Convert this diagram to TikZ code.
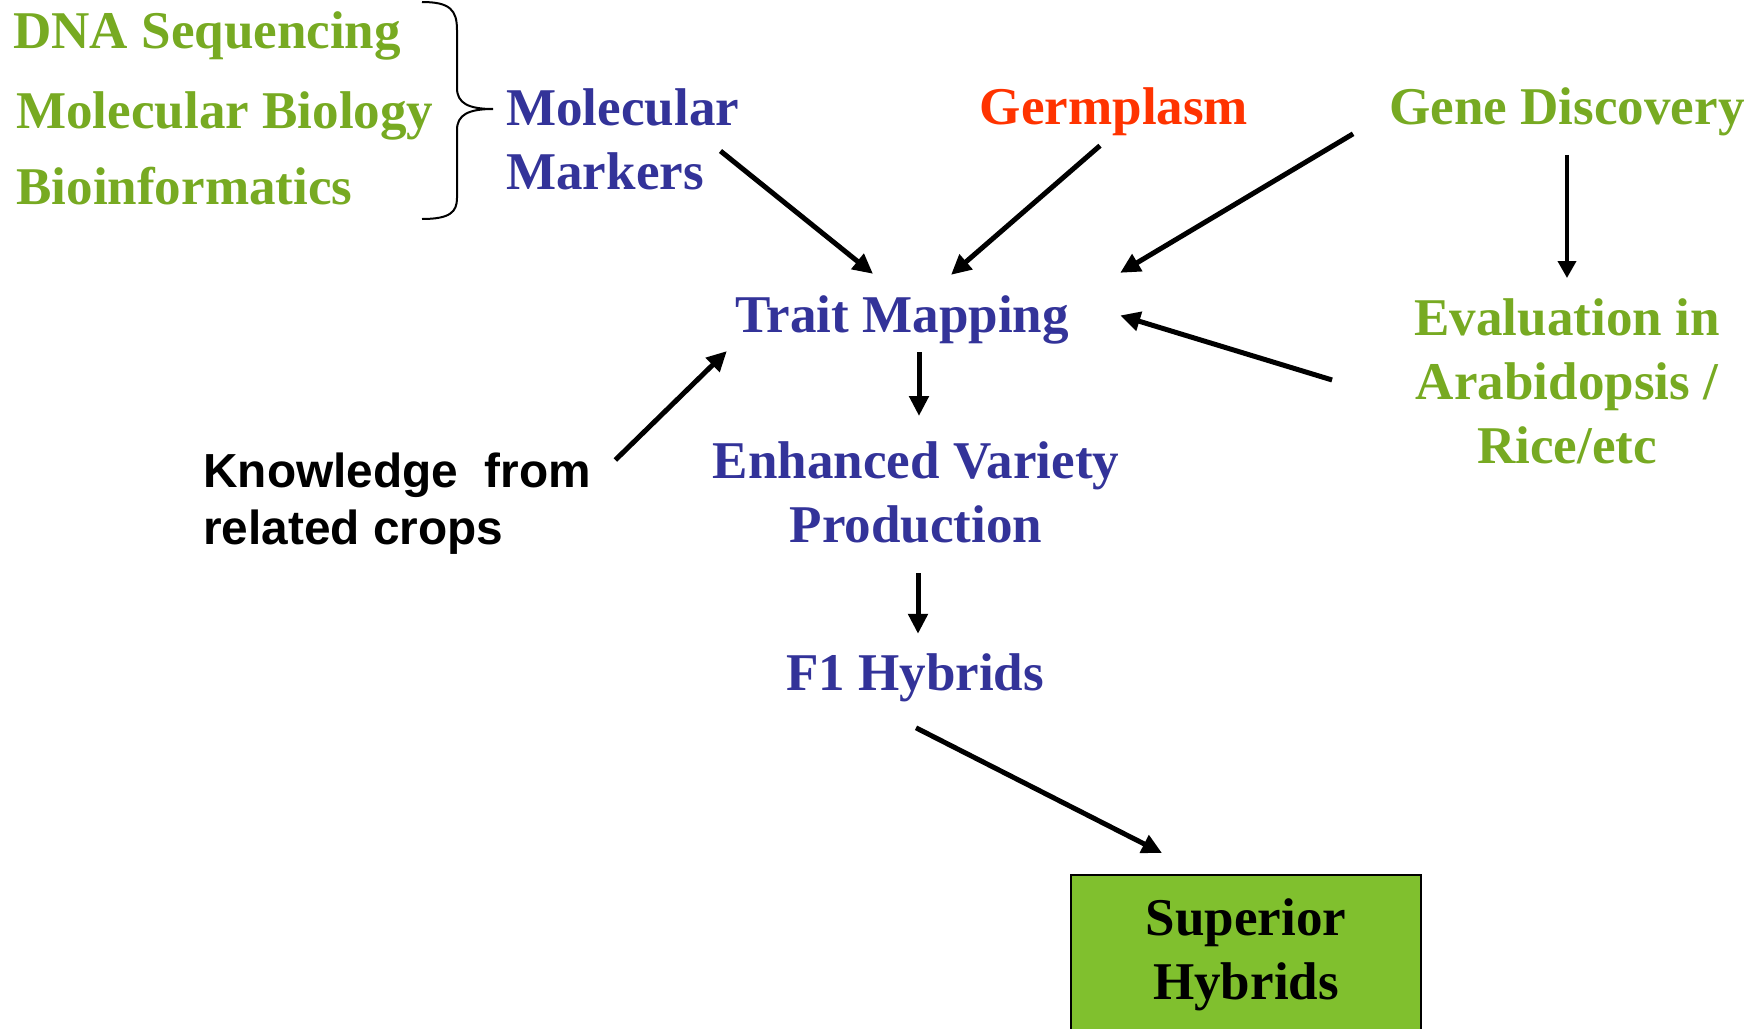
\documentclass[tikz,border=0pt]{standalone}
\usepackage{fontspec}
\setmainfont{Liberation Serif}
\newfontfamily\arialfont{Liberation Sans}
\usetikzlibrary{arrows.meta}
\definecolor{leafgreen}{RGB}{119,170,34}
\definecolor{boxgreen}{RGB}{128,192,46}
\definecolor{markblue}{RGB}{51,51,153}
\definecolor{germred}{RGB}{255,51,0}
\tikzset{
  big/.style={font=\fontsize{30.2}{36.4}\selectfont\bfseries, inner sep=0pt},
  greenlbl/.style={big, text=leafgreen},
  bluelbl/.style={big, text=markblue},
  arr/.style={line width=0.1cm, -{Triangle[length=0.4cm,width=0.38cm]}},
  thinarr/.style={line width=0.075cm, -{Triangle[length=0.34cm,width=0.36cm]}},
}

\begin{document}
\begin{tikzpicture}[x=0.02cm, y=-0.02cm]
		\useasboundingbox (0,0) rectangle (1755,1028);
		%%%%% START %%%%%
		
		\node[greenlbl, anchor=base west] (dna) at (13,48) {DNA Sequencing};
		\node[greenlbl, anchor=base west] (molbio) at (16,128) {Molecular Biology};
		\node[greenlbl, anchor=base west] (bioinf) at (16,204) {Bioinformatics};
		
		\draw[line width=0.04cm] (422,2) .. controls (450,2) and (457,10) .. (457,30) -- (457,88)
			.. controls (457,103) and (468,109) .. (493,109)
			.. controls (468,109) and (457,115) .. (457,130) -- (457,198)
			.. controls (457,212) and (450,219) .. (422,219);
		
		\node[bluelbl, anchor=north west, align=left] (markers) at (506,88) {Molecular\\Markers};
		\node[big, text=germred, anchor=base] (germ) at (1114,124) {Germplasm};
		\node[greenlbl, anchor=base] (gd) at (1567,124) {Gene Discovery};
		
		\node[bluelbl, anchor=base] (tm) at (902,332) {Trait Mapping};
		\node[greenlbl, anchor=north, align=center] (eval) at (1567,298) {Evaluation in\\Arabidopsis /\\Rice/etc};
		\node[font=\arialfont\fontsize{27.2}{31.9}\selectfont\bfseries, inner sep=0pt, anchor=north west, align=left] (know) at (203,453) {Knowledge~~from\\related crops};
		
		\node[bluelbl, anchor=north, align=center] (enh) at (916,441) {Enhanced Variety\\Production};
		\node[bluelbl, anchor=base] (f1) at (915,690) {F1 Hybrids};
		
		\node[big, draw=black, line width=0.04cm, fill=boxgreen, anchor=north, align=center,
			minimum width=7cm, minimum height=3.2cm] (sh) at (1246,874) {Superior\\Hybrids};
		
		\draw[arr] ([shift={(-19,12)}]markers.east) -- ([shift={(-29,-21)}]tm.north);
		\draw[arr] ([shift={(-14,10)}]germ.south) -- ([shift={(49,-20)}]tm.north);
		\draw[arr] ([shift={(-36,-2)}]gd.south west) -- ([shift={(51,-22)}]tm.north east);
		\draw[thinarr] ([shift={(0,19)}]gd.south) -- ([shift={(0,-20)}]eval.north);
		\draw[arr] ([shift={(-82,-1)}]eval.west) -- ([shift={(51,-4)}]tm.east);
		\draw[arr] ([shift={(24,7)}]know.north east) -- ([shift={(-8,7)}]tm.south west);
		
		\draw[arr] ([shift={(17,8)}]tm.south) -- ([shift={(3,-25)}]enh.north);
		\draw[arr] ([shift={(2,30)}]enh.south) -- ([shift={(3,-19)}]f1.north);
		\draw[arr] ([shift={(1,26)}]f1.south) -- ([shift={(-84,-21)}]sh.north);
		
		%%%%% END %%%%%
	\end{tikzpicture}
\end{document}
